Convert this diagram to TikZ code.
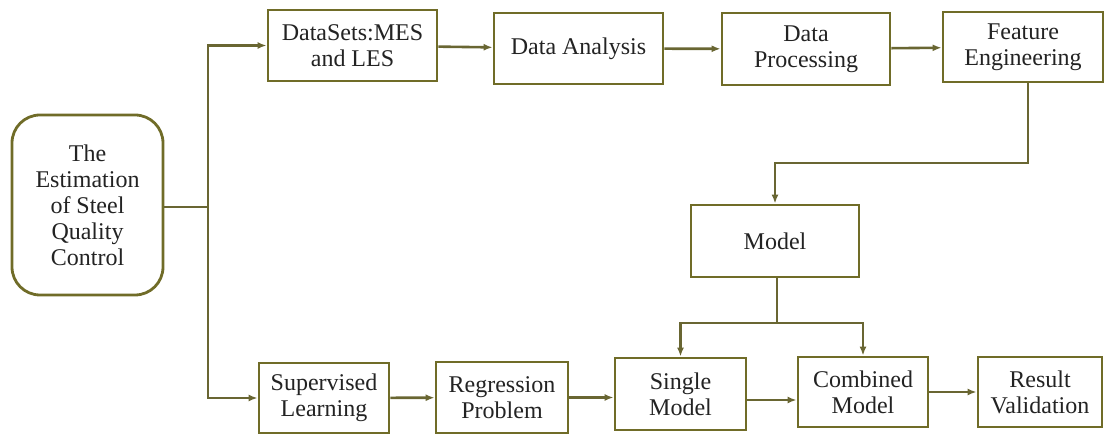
\documentclass[tikz,border=0pt]{standalone}
\usepackage{fontspec}
\setmainfont{Liberation Serif}
\newfontfamily\boxfont{Liberation Serif}
\usetikzlibrary{arrows.meta}
\definecolor{boxline}{RGB}{112,108,40}
\definecolor{conn}{RGB}{105,102,50}
\definecolor{txt}{RGB}{35,35,35}
\tikzset{
  box/.style={draw=boxline, line width=2.8pt, fill=white, inner sep=0pt, align=center,
    text=txt, font=\boxfont\fontsize{24}{26}\selectfont},
  roundbox/.style={box, rounded corners=28pt},
  arr/.style={draw=conn, line width=2.6pt, -{Latex[length=9pt,width=7pt]}},
  ln/.style={draw=conn, line width=2.6pt}
}
\begin{document}
\begin{tikzpicture}[x=1pt,y=-1pt]
\useasboundingbox (0,0) rectangle (1105,435);
% nodes
\node[roundbox, minimum width=151pt, minimum height=180pt] (start) at (87.5,205) {The\\Estimation\\of Steel\\Quality\\Control};
\node[box, minimum width=169pt, minimum height=71pt] (ds) at (352.5,45.5) {DataSets:MES\\and LES};
\node[box, minimum width=169pt, minimum height=71pt] (da) at (578.5,48.5) {Data Analysis};
\node[box, minimum width=168pt, minimum height=72pt] (dp) at (806,49) {Data\\Processing};
\node[box, minimum width=160pt, minimum height=70pt] (fe) at (1023,47) {Feature\\Engineering};
\node[box, minimum width=168pt, minimum height=72pt] (model) at (775,241) {Model};
\node[box, minimum width=130pt, minimum height=70pt] (sl) at (324,398) {Supervised\\Learning};
\node[box, minimum width=132pt, minimum height=71pt] (rp) at (502,397.5) {Regression\\Problem};
\node[box, minimum width=131pt, minimum height=72pt] (sm) at (680.5,394) {Single\\Model};
\node[box, minimum width=130pt, minimum height=70pt] (cm) at (863,392) {Combined\\Model};
\node[box, minimum width=124pt, minimum height=70pt] (rv) at (1040,392) {Result\\Validation};
% connectors
\coordinate (j) at (208,207);
\draw[ln] (start.east |- j) -- (j);
\draw[arr] (j) |- (ds.west);
\draw[arr] (j) |- (sl.west);
\draw[arr] (ds) -- (da);
\draw[arr] (da) -- (dp);
\draw[arr] (dp) -- (fe);
\coordinate (c1) at (1028,163);
\draw[arr] (fe.south -| c1) -- (c1) -| (model.north);
\coordinate (b) at (777,323);
\draw[ln] (model.south -| b) -- (b);
\draw[arr] (b) -| (sm.north);
\draw[arr] (b) -| (cm.north);
\draw[arr] (sl) -- (rp);
\draw[arr] (rp.east) -- (sm.west |- rp.east);
\draw[arr] (sm.east |- 0,400) -- (cm.west |- 0,400);
\draw[arr] (cm) -- (rv);
\end{tikzpicture}
\end{document}
